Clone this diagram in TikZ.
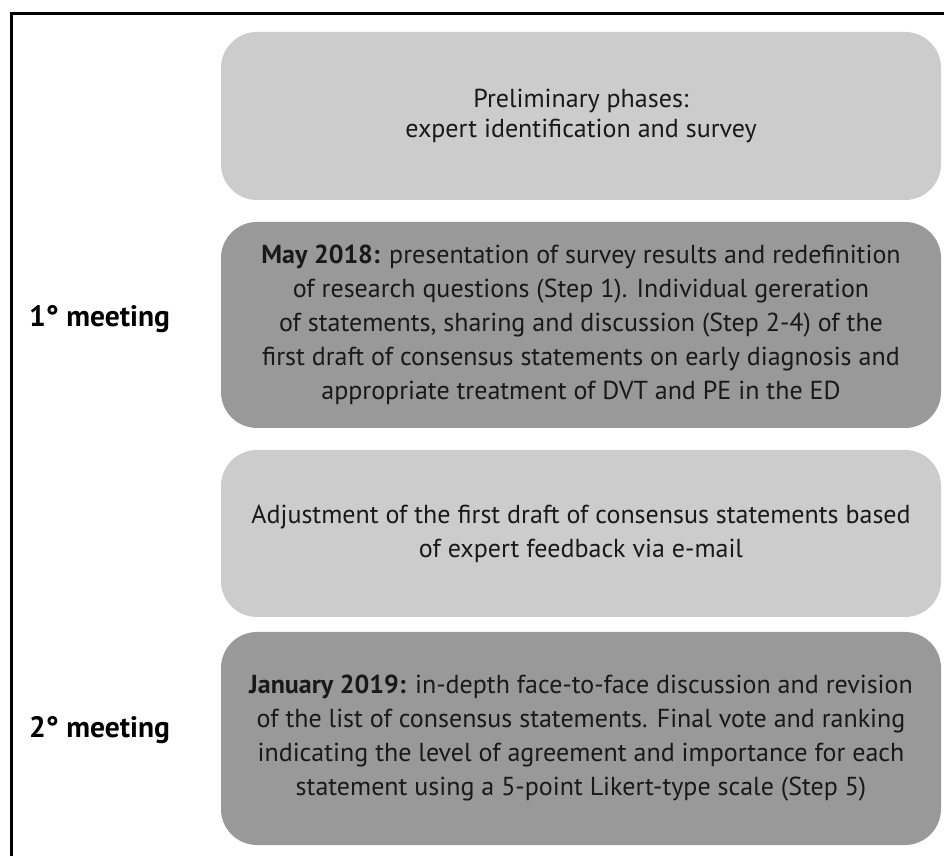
\documentclass[tikz,border=0pt]{standalone}
\usepackage{fontspec}
\setmainfont{PT Sans}
\definecolor{boxlight}{HTML}{CCCCCC}
\definecolor{boxdark}{HTML}{999999}
\tikzset{
  phase/.style={rectangle, rounded corners=36pt, minimum width=720pt, inner sep=0pt,
    align=center, text=black!90, font=\fontsize{26}{34}\selectfont},
  light/.style={phase, fill=boxlight},
  dark/.style={phase, fill=boxdark},
  meet/.style={anchor=base west, inner sep=0pt, font=\fontsize{29.5}{32}\selectfont\bfseries}
}
\begin{document}
\begin{tikzpicture}[x=1pt,y=1pt]
\useasboundingbox (0,0) rectangle (944,856);
\fill[white] (0,0) rectangle (944,856);
\draw[line width=3pt] (11.5,0) -- (11.5,842) -- (944,842);
\node[light, minimum height=168pt, font=\fontsize{26}{30}\selectfont] (p0) at (581,740)
  {Preliminary phases:\\expert identification and survey};
\node[dark, minimum height=206pt] (p1) at (581,531)
  {\textbf{May 2018:} presentation of survey results and redefinition\\
   of research questions (Step 1). Individual gereration\\
   of statements, sharing and discussion (Step 2-4) of the\\
   first draft of consensus statements on early diagnosis and\\
   appropriate treatment of DVT and PE in the ED};
\node[light, minimum height=167pt] (p2) at (581,322.5)
  {Adjustment of the first draft of consensus statements based\\
   of expert feedback via e-mail};
\node[dark, minimum height=213pt] (p3) at (581,117.5)
  {\textbf{January 2019:} in-depth face-to-face discussion and revision\\
   of the list of consensus statements. Final vote and ranking\\
   indicating the level of agreement and importance for each\\
   statement using a 5-point Likert-type scale (Step 5)};
\node[meet] (m1) at (29,529) {1° meeting};
\node[meet] (m2) at (29,118) {2° meeting};
\end{tikzpicture}
\end{document}
